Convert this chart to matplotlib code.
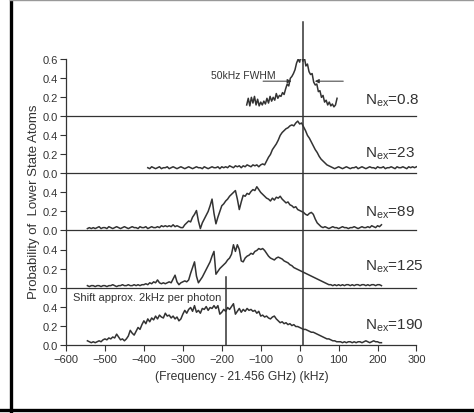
import numpy as np
import matplotlib
matplotlib.use("Agg")
import matplotlib.pyplot as plt
from matplotlib.lines import Line2D

plt.rcParams['font.family'] = ['Liberation Sans', 'DejaVu Sans']

# --- data (kHz offset, probability) ---
freq_1 = np.arange(-136, 97, 4)
prob_1 = [0.12, 0.19, 0.11, 0.20, 0.14, 0.21, 0.12, 0.18, 0.11, 0.15,
          0.12, 0.16, 0.13, 0.19, 0.14, 0.21, 0.16, 0.20, 0.17, 0.24,
          0.19, 0.22, 0.21, 0.25, 0.23, 0.29, 0.34, 0.32, 0.40, 0.42,
          0.45, 0.49, 0.56, 0.60, 0.57, 0.66, 0.58, 0.62, 0.53, 0.55,
          0.47, 0.44, 0.45, 0.36, 0.33, 0.34, 0.26, 0.27, 0.20, 0.22,
          0.15, 0.17, 0.12, 0.15, 0.11, 0.13, 0.10, 0.12, 0.19]

freq_2 = np.arange(-390, 301, 5)
prob_2 = [0.06, 0.05, 0.07, 0.06, 0.05, 0.06, 0.07, 0.05, 0.06, 0.06,
          0.07, 0.05, 0.06, 0.07, 0.06, 0.05, 0.06, 0.07, 0.06, 0.05,
          0.06, 0.07, 0.06, 0.05, 0.06, 0.07, 0.06, 0.06, 0.05, 0.07,
          0.06, 0.05, 0.06, 0.07, 0.06, 0.06, 0.07, 0.05, 0.07, 0.06,
          0.07, 0.06, 0.08, 0.07, 0.06, 0.08, 0.07, 0.08, 0.06, 0.08,
          0.07, 0.09, 0.08, 0.07, 0.09, 0.08, 0.09, 0.07, 0.09, 0.10,
          0.09, 0.13, 0.17, 0.20, 0.25, 0.28, 0.31, 0.35, 0.40, 0.43,
          0.45, 0.47, 0.48, 0.50, 0.51, 0.50, 0.53, 0.55, 0.52, 0.53,
          0.49, 0.45, 0.40, 0.37, 0.33, 0.29, 0.25, 0.22, 0.18, 0.15,
          0.13, 0.11, 0.09, 0.08, 0.07, 0.06, 0.05, 0.06, 0.07, 0.06,
          0.05, 0.06, 0.07, 0.06, 0.05, 0.06, 0.06, 0.07, 0.05, 0.06,
          0.07, 0.06, 0.05, 0.06, 0.07, 0.06, 0.06, 0.05, 0.07, 0.06,
          0.06, 0.07, 0.05, 0.06, 0.06, 0.07, 0.06, 0.05, 0.07, 0.06,
          0.06, 0.07, 0.06, 0.05, 0.07, 0.06, 0.07, 0.06, 0.07]

freq_wide = np.arange(-545, 211, 5)
prob_3 = [0.02, 0.03, 0.02, 0.03, 0.02, 0.03, 0.04, 0.02, 0.03, 0.03,
          0.02, 0.04, 0.03, 0.02, 0.03, 0.04, 0.03, 0.02, 0.03, 0.04,
          0.03, 0.02, 0.03, 0.04, 0.03, 0.03, 0.02, 0.04, 0.03, 0.03,
          0.04, 0.02, 0.03, 0.04, 0.03, 0.03, 0.04, 0.03, 0.05, 0.04,
          0.05, 0.04, 0.05, 0.04, 0.06, 0.04, 0.05, 0.04, 0.03, 0.03,
          0.06, 0.08, 0.10, 0.09, 0.14, 0.17, 0.21, 0.10, 0.02, 0.08,
          0.12, 0.16, 0.20, 0.26, 0.33, 0.18, 0.07, 0.14, 0.20, 0.26,
          0.28, 0.31, 0.33, 0.36, 0.38, 0.40, 0.42, 0.33, 0.22, 0.30,
          0.37, 0.36, 0.39, 0.38, 0.41, 0.43, 0.42, 0.46, 0.43, 0.40,
          0.38, 0.36, 0.34, 0.33, 0.31, 0.34, 0.32, 0.35, 0.34, 0.36,
          0.33, 0.31, 0.29, 0.30, 0.27, 0.26, 0.24, 0.25, 0.22, 0.21,
          0.20, 0.19, 0.17, 0.16, 0.18, 0.19, 0.17, 0.12, 0.08, 0.06,
          0.04, 0.03, 0.04, 0.03, 0.02, 0.03, 0.04, 0.03, 0.03, 0.02,
          0.03, 0.04, 0.03, 0.03, 0.02, 0.03, 0.03, 0.04, 0.03, 0.02,
          0.03, 0.04, 0.03, 0.03, 0.04, 0.03, 0.05, 0.04, 0.03, 0.05,
          0.04, 0.06]
prob_4 = [0.02, 0.01, 0.02, 0.02, 0.01, 0.02, 0.02, 0.01, 0.02, 0.02,
          0.01, 0.02, 0.02, 0.03, 0.02, 0.01, 0.02, 0.02, 0.03, 0.02,
          0.02, 0.03, 0.02, 0.02, 0.03, 0.02, 0.03, 0.02, 0.03, 0.03,
          0.04, 0.03, 0.05, 0.04, 0.06, 0.05, 0.08, 0.05, 0.04, 0.05,
          0.04, 0.05, 0.06, 0.05, 0.09, 0.13, 0.06, 0.03, 0.05, 0.06,
          0.07, 0.06, 0.08, 0.15, 0.21, 0.27, 0.12, 0.05, 0.08, 0.11,
          0.15, 0.19, 0.23, 0.27, 0.33, 0.38, 0.14, 0.17, 0.20, 0.22,
          0.24, 0.26, 0.29, 0.31, 0.35, 0.45, 0.38, 0.45, 0.40, 0.28,
          0.27, 0.31, 0.33, 0.34, 0.36, 0.35, 0.38, 0.39, 0.41, 0.40,
          0.41, 0.39, 0.36, 0.33, 0.31, 0.30, 0.29, 0.31, 0.32, 0.31,
          0.30, 0.28, 0.27, 0.26, 0.24, 0.23, 0.21, 0.20, 0.19, 0.18,
          0.17, 0.16, 0.15, 0.14, 0.13, 0.12, 0.11, 0.10, 0.09, 0.08,
          0.07, 0.06, 0.05, 0.04, 0.03, 0.03, 0.02, 0.03, 0.02, 0.03,
          0.02, 0.03, 0.02, 0.03, 0.03, 0.02, 0.03, 0.02, 0.03, 0.03,
          0.02, 0.03, 0.03, 0.02, 0.03, 0.02, 0.03, 0.03, 0.02, 0.03,
          0.03, 0.02]
prob_5 = [0.04, 0.03, 0.02, 0.03, 0.02, 0.03, 0.04, 0.03, 0.05, 0.06,
          0.05, 0.07, 0.06, 0.08, 0.07, 0.11, 0.08, 0.05, 0.06, 0.04,
          0.06, 0.09, 0.15, 0.12, 0.10, 0.14, 0.18, 0.16, 0.21, 0.25,
          0.22, 0.27, 0.24, 0.28, 0.26, 0.30, 0.27, 0.31, 0.29, 0.28,
          0.33, 0.30, 0.31, 0.28, 0.30, 0.27, 0.29, 0.25, 0.27, 0.32,
          0.36, 0.33, 0.37, 0.39, 0.35, 0.41, 0.34, 0.36, 0.33, 0.38,
          0.37, 0.40, 0.36, 0.39, 0.38, 0.41, 0.38, 0.41, 0.32, 0.34,
          0.37, 0.35, 0.39, 0.37, 0.40, 0.43, 0.32, 0.35, 0.38, 0.34,
          0.37, 0.35, 0.38, 0.36, 0.37, 0.35, 0.36, 0.33, 0.35, 0.30,
          0.31, 0.29, 0.30, 0.28, 0.27, 0.29, 0.30, 0.27, 0.25, 0.23,
          0.24, 0.22, 0.23, 0.21, 0.22, 0.20, 0.21, 0.19, 0.19, 0.18,
          0.17, 0.16, 0.16, 0.15, 0.14, 0.13, 0.13, 0.12, 0.11, 0.10,
          0.09, 0.08, 0.07, 0.06, 0.06, 0.05, 0.04, 0.04, 0.03, 0.03,
          0.03, 0.02, 0.03, 0.02, 0.03, 0.03, 0.02, 0.03, 0.02, 0.03,
          0.03, 0.02, 0.03, 0.04, 0.03, 0.02, 0.03, 0.04, 0.03, 0.03,
          0.02, 0.02]

panels = [(freq_1, prob_1), (freq_2, prob_2), (freq_wide, prob_3),
          (freq_wide, prob_4), (freq_wide, prob_5)]
n_ex_labels = ['0.8', '23', '89', '125', '190']
label_y = [0.137, 0.18, 0.158, 0.194, 0.175]

xticks = [-600, -500, -400, -300, -200, -100, 0, 100, 200, 300]
center_line = 9       # resonance marker (kHz)
shift_line = -188     # shifted marker in the last panel

W, H = 474, 414
fig = plt.figure(figsize=(W / 100, H / 100), dpi=100)

ink = '#333333'
left, right = 66 / W, 416.5 / W
bottom, top = 1 - 345.6 / H, 1 - 60.3 / H
ph = (top - bottom) / 5

axes = []
for i, (fx, py) in enumerate(panels):
    ax = fig.add_axes([left, top - (i + 1) * ph, right - left, ph])
    ax.set_xlim(-600, 300)
    ax.set_ylim(0, 0.6)
    ax.patch.set_alpha(0)
    for s in ['top', 'right']:
        ax.spines[s].set_visible(False)
    for s in ['left', 'bottom']:
        ax.spines[s].set_color(ink)
        ax.spines[s].set_linewidth(0.9)
    ax.plot(fx, py, color=ink, lw=1.1)
    yt = [0, 0.2, 0.4, 0.6] if i == 0 else [0, 0.2, 0.4]
    ax.set_yticks(yt)
    ax.set_yticklabels(['%.1f' % v for v in yt])
    ax.tick_params(axis='y', direction='out', length=4.5, width=0.8,
                   color=ink, labelsize=8, pad=1.5, labelcolor='#333333')
    if i < 4:
        ax.set_xticks([])
    else:
        ax.set_xticks(xticks)
        ax.tick_params(axis='x', direction='out', length=4.5, width=0.8,
                       color=ink, labelsize=8, pad=2.5, labelcolor='#333333')
    ax.text(168, label_y[i], r'N$_{\mathregular{ex}}$=' + n_ex_labels[i],
            fontsize=11, color='#333333', va='baseline', ha='left')
    axes.append(ax)

# vertical marker at resonance through all panels
axes[0].plot([center_line, center_line], [0, 0.99], color=ink, lw=1.1,
             clip_on=False)
for ax in axes[1:]:
    ax.axvline(center_line, color=ink, lw=1.1)

# FWHM arrows and label
a0 = axes[0]
a0.annotate('', xy=(-21, 0.37), xytext=(-94, 0.37),
            arrowprops=dict(arrowstyle='-|>', color=ink, lw=0.7,
                            mutation_scale=6, shrinkA=0, shrinkB=0))
a0.annotate('', xy=(39, 0.37), xytext=(112, 0.37),
            arrowprops=dict(arrowstyle='-|>', color=ink, lw=0.7,
                            mutation_scale=6, shrinkA=0, shrinkB=0))
a0.text(-227, 0.40, '50kHz FWHM', fontsize=7.5, color='#333333',
        va='baseline', ha='left')

# photon shift marker in last panel
a4 = axes[4]
a4.plot([shift_line, shift_line], [0, 0.71], color=ink, lw=1.1,
        clip_on=False)
a4.text(-582, 0.50, 'Shift approx. 2kHz per photon', fontsize=8,
        color='#333333', va='center', ha='left')

fig.text(241.7 / W, 1 - 376.7 / H, '(Frequency - 21.456 GHz) (kHz)',
         fontsize=8.7, color='#333333', ha='center', va='center')
fig.text(34 / W, 1 - 202 / H, 'Probability of  Lower State Atoms',
         fontsize=9.5, color='#333333', ha='center', va='center',
         rotation=90)

# page frame
fig.add_artist(Line2D([10.5 / W, 10.5 / W], [0, 1], color='black', lw=2.4))
fig.add_artist(Line2D([0, 1], [1 - 411 / H, 1 - 411 / H], color='black',
                      lw=2.4))
fig.add_artist(Line2D([10 / W, 1], [1 - 1 / H, 1 - 1 / H], color='#999999',
                      lw=1))

fig.savefig('out.png', dpi=100)
